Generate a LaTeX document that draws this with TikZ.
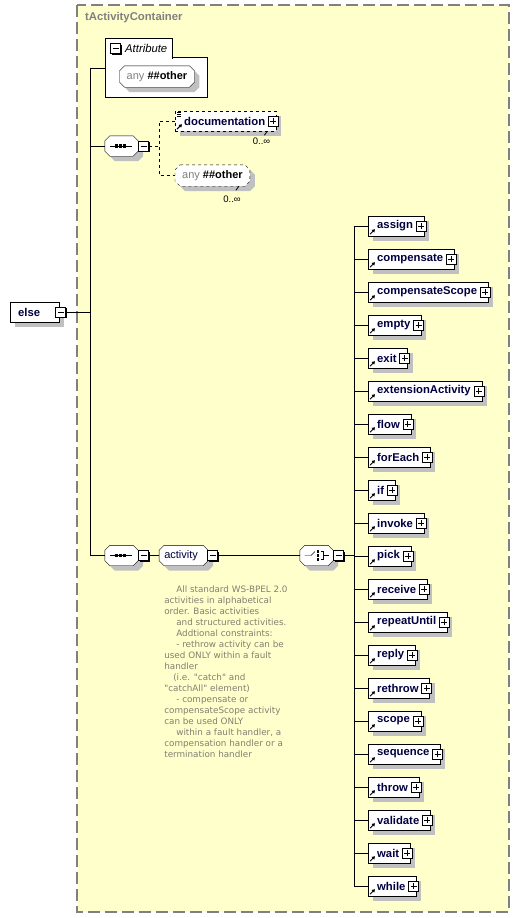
\documentclass[tikz,border=0pt]{standalone}
\usepackage{fontspec}
\newfontfamily\xsans{Liberation Sans}
\newfontfamily\notefont{DejaVu Sans}
\usetikzlibrary{shadows, positioning, arrows.meta, calc, backgrounds}

\definecolor{bgyellow}{RGB}{255,255,204}
\definecolor{framegray}{RGB}{128,128,128}
\definecolor{shadowgray}{RGB}{192,192,192}
\definecolor{elemblue}{RGB}{0,0,64}
\definecolor{notegray}{RGB}{128,128,112}

\newcommand\anyother{{\color{framegray}any} \textbf{\#\#other}}
% octagon outline (with shadow) behind a named node
\newcommand\octagon[2][]{%
  \begin{pgfonlayer}{background}
    \draw[fill=white, preaction={fill=shadowgray, transform canvas={xshift=5pt, yshift=-5pt}}, #1]
      ([xshift=5pt]#2.north west) -- ([xshift=-5pt]#2.north east) -- ([yshift=-5pt]#2.north east)
      -- ([yshift=5pt]#2.south east) -- ([xshift=-5pt]#2.south east) -- ([xshift=5pt]#2.south west)
      -- ([yshift=5pt]#2.south west) -- ([yshift=-5pt]#2.north west) -- cycle;
  \end{pgfonlayer}}
% sequence and choice marks
\newcommand\seqmark[1]{%
  \draw ([xshift=-11.5pt]#1.center) -- ([xshift=10.5pt]#1.center);
  \foreach \dx in {-5,-1,3} \fill ([xshift=\dx pt]#1.center) +(-1.6pt,-1.6pt) rectangle +(1.6pt,1.6pt);}
\newcommand\choicemark[1]{%
  \draw ([xshift=-12pt]#1.center) -- ([xshift=-5.5pt]#1.center) -- ([shift={(-1.5pt,4pt)}]#1.center);
  \foreach \dy in {-4,0,4} \fill ([shift={(1.5pt,\dy pt)}]#1.center) +(-1.4pt,-1.4pt) rectangle +(1.4pt,1.4pt);
  \draw ([shift={(4pt,4pt)}]#1.center) -- ([shift={(7pt,4pt)}]#1.center) -- ([shift={(7pt,-4pt)}]#1.center)
    -- ([shift={(4pt,-4pt)}]#1.center) ([xshift=7pt]#1.center) -- ([xshift=12pt]#1.center);}

\begin{document}
\begin{tikzpicture}[
    x=1pt, y=-1pt, line width=1pt,
    gshadow/.style={drop shadow={shadow xshift=5pt, shadow yshift=-5pt, fill=shadowgray, opacity=1}},
    boldsans/.style={font={\xsans\bfseries\fontsize{11.3}{13}\selectfont}},
    xbox/.style={draw, fill=white, anchor=west, minimum height=20pt, inner xsep=0pt, inner ysep=0pt,
      boldsans, text=elemblue, gshadow},
    elem/.style={xbox, execute at begin node={\hspace*{9pt}}, execute at end node={\hspace*{11pt}}},
    rootelem/.style={xbox, execute at begin node={\hspace*{8pt}}, execute at end node={\hspace*{19pt}}},
    pmbox/.style={draw, fill=white, minimum size=10pt, inner sep=0pt, line width=0.9pt},
    minusbox/.style={pmbox, drop shadow={shadow xshift=1.2pt, shadow yshift=-1.2pt, fill=black, opacity=1},
      path picture={\draw[line width=1pt] ([xshift=2pt]path picture bounding box.west) -- ([xshift=-2pt]path picture bounding box.east);}},
    plusbox/.style={pmbox,
      path picture={\draw[line width=1pt] ([xshift=2pt]path picture bounding box.west) -- ([xshift=-2pt]path picture bounding box.east)
        ([yshift=2pt]path picture bounding box.south) -- ([yshift=-2pt]path picture bounding box.north);}},
    compositor/.style={rectangle, minimum width=33pt, minimum height=20pt, inner sep=0pt},
    group/.style={rectangle, minimum height=20pt, inner xsep=5pt, inner ysep=0pt,
      font={\xsans\fontsize{11}{13}\selectfont}, text=elemblue},
    wildcard/.style={rectangle, minimum height=21pt, inner xsep=7pt, inner ysep=0pt,
      font={\xsans\fontsize{11}{13}\selectfont}},
    occurs/.style={font={\xsans\fontsize{9.5}{11}\selectfont}, inner sep=0pt},
    refarrow/.style={-{Triangle[length=3pt, width=3.5pt]}, line width=1pt},
    note/.style={font={\notefont\fontsize{8.8}{11}\selectfont}, text=notegray, align=left, inner sep=0pt, anchor=north west}
  ]
  \useasboundingbox (0,0) rectangle (520,918);

  % complex type container
  \begin{pgfonlayer}{background}
    \draw[framegray, line width=1.3pt, dash pattern=on 12pt off 5pt, fill=bgyellow] (77,5) rectangle (509,912);
  \end{pgfonlayer}
  \node[boldsans, text=framegray, anchor=west, inner sep=0pt] (ctitle) at (85,18) {tActivityContainer};

  % root element
  \node[rootelem] (else) at (10,312) {else};
  \node[minusbox] (elsem) at ([xshift=1.5pt]else.east) {};
  \coordinate (spinetop) at (90,68);
  \coordinate (spinebot) at (90,555.5);
  \draw (spinetop) -- (spinebot);
  \draw (elsem.east) -- (elsem.east -| spinetop);

  % attributes
  \begin{pgfonlayer}{background}
    \node[draw, fill=white, anchor=north west, minimum width=102pt, minimum height=40pt, inner sep=0pt] (attr) at (105,57) {};
    \node[fill=white, anchor=south west, minimum height=19pt, inner sep=0pt,
      font={\xsans\itshape\fontsize{11.3}{13}\selectfont}] (attrtab) at ([yshift=-1pt]attr.north west) {\hspace*{20pt}Attribute\hspace*{5pt}};
    \draw (attrtab.south west) |- (attrtab.north east) -- ([yshift=-1pt]attrtab.south east);
  \end{pgfonlayer}
  \node[minusbox] (attrm) at ([xshift=10.5pt]attrtab.west) {};
  \node[wildcard] (anyattr) at (157,76.5) {\anyother};
  \octagon{anyattr}
  \draw (spinetop) -- (spinetop -| attr.west);

  % first sequence
  \node[compositor] (seq1) at (121.5,146) {};
  \octagon{seq1}
  \seqmark{seq1}
  \node[minusbox, right=0pt of seq1] (seq1m) {};
  \draw (spinetop |- seq1) -- (seq1.west);
  \node[elem, dashed] (doc) at (175,121) {documentation};
  \node[plusbox] at ([xshift=-3pt]doc.east) {};
  \draw[line width=0.8pt] ([shift={(2pt,-2pt)}]doc.north west) -- ++(4pt,0) ([shift={(2pt,-4pt)}]doc.north west) -- ++(4pt,0)
    ([shift={(2pt,-6pt)}]doc.north west) -- ++(4pt,0);
  \draw[refarrow] ([shift={(2pt,2pt)}]doc.south west) -- ++(5pt,5pt);
  \node[occurs, anchor=north east] (dococc) at ([shift={(-6pt,-6pt)}]doc.south east) {0..∞};
  \draw[line width=0.8pt] ([xshift=-9pt]doc.south east) -- ++(-3pt,-4pt);
  \node[wildcard, anchor=west] (anyopt) at (175,175.5) {\anyother};
  \octagon[dashed]{anyopt}
  \node[occurs, anchor=north east] (anyocc) at ([shift={(-9pt,-9pt)}]anyopt.south east) {0..∞};
  \draw[line width=0.8pt] ([xshift=-11pt]anyopt.south east) -- ++(-3pt,-4pt);
  \draw[dashed] (seq1m.east) -- ++(10pt,0) coordinate (fork1);
  \draw[dashed] (doc.west) -| (fork1) |- (anyopt.west);

  % second sequence with activity group
  \node[compositor] (seq2) at (121.5,555.5) {};
  \octagon{seq2}
  \seqmark{seq2}
  \node[minusbox, right=0pt of seq2] (seq2m) {};
  \draw (spinebot) -- (seq2.west);
  \node[group, right=10pt of seq2m] (act) {activity\hspace*{5pt}};
  \octagon{act}
  \node[minusbox, right=-1pt of act] (actm) {};
  \draw (seq2m) -- (act);
  \node[compositor] (choice) at (316.5,555.5) {};
  \octagon{choice}
  \choicemark{choice}
  \node[minusbox, right=0pt of choice] (choicem) {};
  \draw (actm) -- (choice);
  \draw (choicem.east) -- ++(10pt,0) coordinate (fork2);

  \node[note] (actnote) at ([shift={(5pt,-20pt)}]act.south west) {%
    \hspace*{12pt}All standard WS-BPEL 2.0\\
    activities in alphabetical\\
    order. Basic activities\\
    \hspace*{12pt}and structured activities.\\
    \hspace*{12pt}Addtional constraints:\\
    \hspace*{12pt}- rethrow activity can be\\
    used ONLY within a fault\\
    handler\\
    \hspace*{9pt}(i.e. "catch" and\\
    "catchAll" element)\\
    \hspace*{12pt}- compensate or\\
    compensateScope activity\\
    can be used ONLY\\
    \hspace*{12pt}within a fault handler, a\\
    compensation handler or a\\
    termination handler};

  % activities
  \foreach \name [count=\i from 0] in {assign, compensate, compensateScope, empty, exit, extensionActivity,
      flow, forEach, if, invoke, pick, receive, repeatUntil, reply, rethrow, scope, sequence, throw,
      validate, wait, while} {
    \node[elem] (e\i) at (368, 226+33*\i) {\name};
    \node[plusbox] at ([xshift=-3pt]e\i.east) {};
    \draw[refarrow] ([shift={(2pt,2pt)}]e\i.south west) -- ++(5pt,5pt);
    \draw (e\i.west) -- (e\i.west -| fork2);
  }
  \draw (fork2 |- e0.west) -- (fork2 |- e20.west);
\end{tikzpicture}
\end{document}
